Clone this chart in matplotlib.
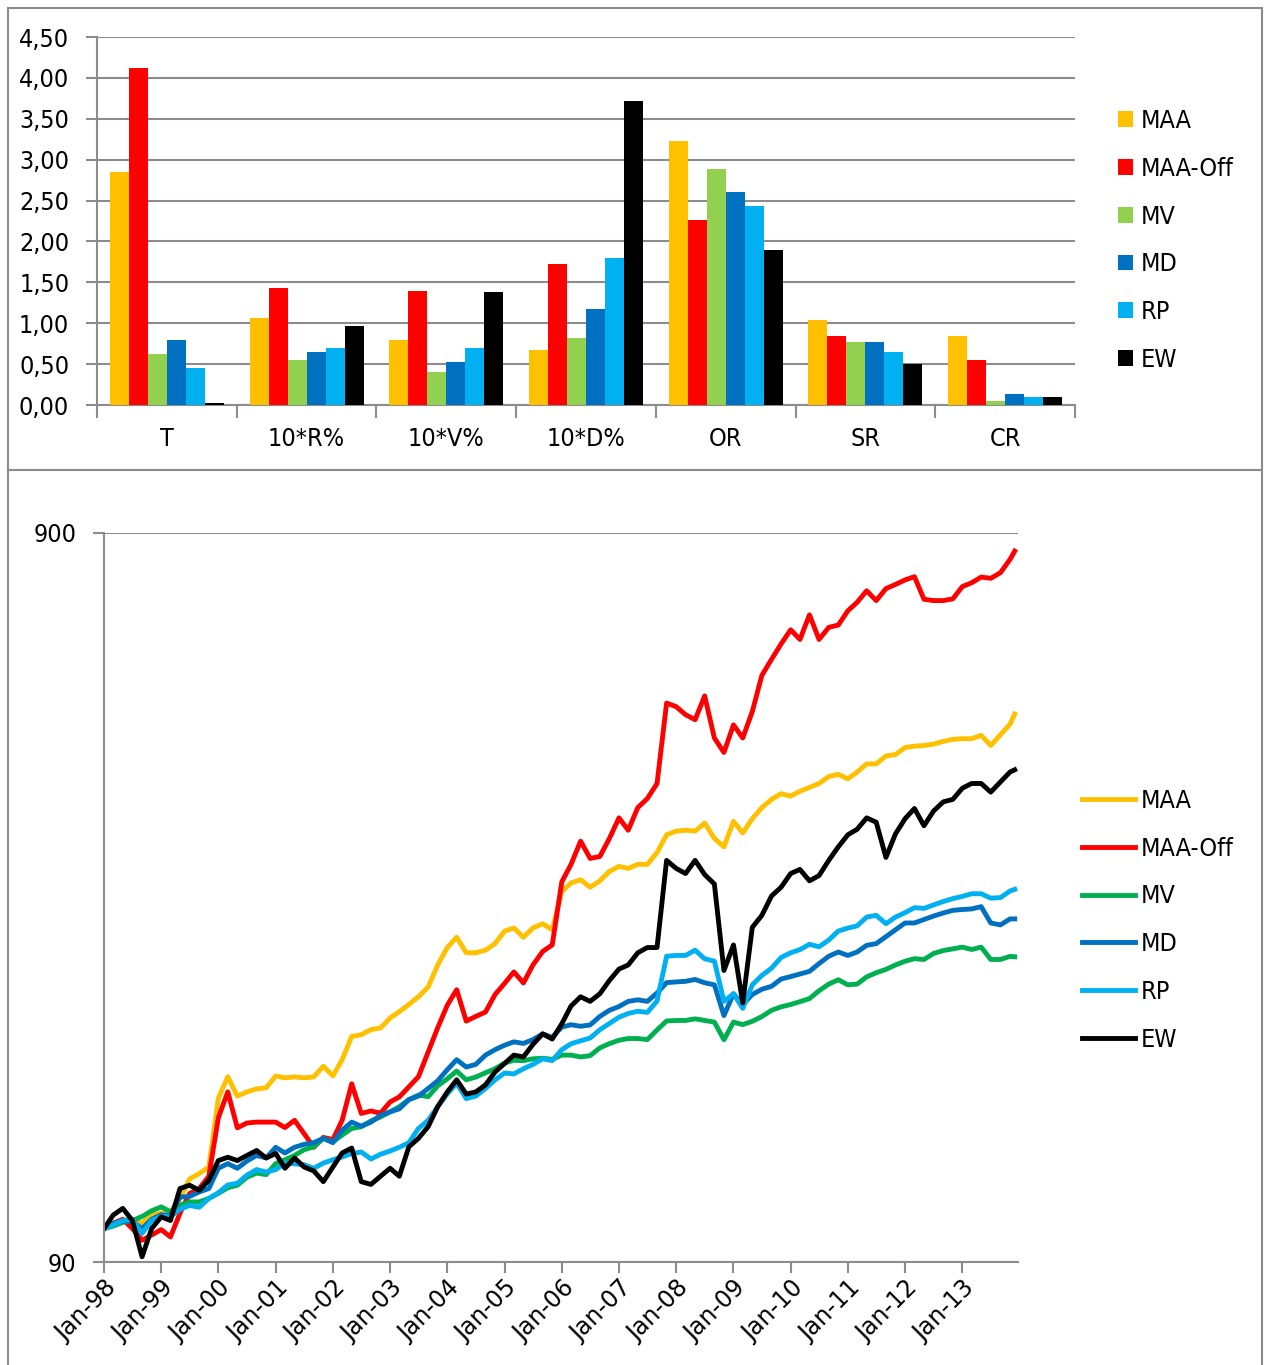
import datetime as dt

import numpy as np
from matplotlib import pyplot as plt
from matplotlib.lines import Line2D
from matplotlib.patches import Rectangle
from matplotlib.ticker import FixedLocator, FuncFormatter, NullLocator
import matplotlib.dates as mdates

NARROW = ['Liberation Sans Narrow', 'DejaVu Sans']

names = ['MAA', 'MAA-Off', 'MV', 'MD', 'RP', 'EW']
bar_colors = ['#FFC000', '#FF0000', '#92D050', '#0070C0', '#00B0F0', '#000000']
line_colors = ['#FFC000', '#FF0000', '#00B050', '#0070C0', '#00B0F0', '#000000']

# top chart: statistics per strategy
stats = ['T', '10*R%', '10*V%', '10*D%', 'OR', 'SR', 'CR']
maa_bar = [2.85, 1.06, 0.79, 0.67, 3.23, 1.04, 0.84]
off_bar = [4.12, 1.43, 1.40, 1.72, 2.26, 0.84, 0.55]
mv_bar = [0.62, 0.55, 0.40, 0.82, 2.89, 0.77, 0.05]
md_bar = [0.79, 0.65, 0.52, 1.18, 2.60, 0.77, 0.13]
rp_bar = [0.45, 0.70, 0.70, 1.80, 2.43, 0.65, 0.10]
ew_bar = [0.03, 0.97, 1.38, 3.72, 1.89, 0.50, 0.10]

# bottom chart: growth of 100 (log scale), every second month Jan-98 .. Nov-13, plus Dec-13
dates = [dt.date(y, m, 1) for y in range(1998, 2014) for m in (1, 3, 5, 7, 9, 11)]
dates.append(dt.date(2013, 12, 1))

maa = [100, 101.5, 102.6, 103, 101.7, 104.5,
       105, 105.5, 110, 117, 119, 121.5,
       151, 161.6, 152, 154, 155.5, 156,
       162, 161, 161.5, 161, 161.5, 167,
       162, 170.5, 183.5, 184.5, 187.5, 188.5,
       194.5, 198.5, 203, 208, 214.5, 230,
       243, 251, 239, 239, 241, 246,
       256, 258.5, 251, 258.5, 262, 257,
       290, 298, 301, 294, 300, 309,
       314, 312, 316, 316, 328, 347,
       351, 352, 351, 360, 343, 334,
       362, 349, 365, 378, 388, 395,
       392, 398, 403, 408, 417, 420,
       414, 423, 434, 434, 445, 447,
       457, 459, 460, 462, 466, 469,
       470, 470, 475, 460, 476, 492, 508]

maa_off = [100, 101.7, 103, 100, 96.4, 98,
           99.7, 97.4, 105, 111.7, 113.5, 118,
           142, 154, 137.5, 139.6, 140, 140,
           140, 137.6, 140.8, 135, 129.3, 133.4,
           132.5, 140.8, 158, 143.9, 145, 144,
           149.2, 151.6, 156.5, 161.6, 174.7, 188.6,
           202.5, 212.7, 192.6, 195.5, 198.2, 209.5,
           217, 225, 217.3, 230, 240, 245,
           299, 316, 340, 322, 324, 343,
           366, 352, 378, 389, 408, 526,
           520, 507, 499, 538, 471, 450,
           491, 471, 512, 574, 604, 634,
           663, 643, 695, 643, 668, 673,
           704, 723, 750, 727, 755, 765,
           776, 784, 730, 727, 727, 731,
           760, 769, 783, 780, 794, 828, 850]

mv = [100, 100.8, 102, 102.6, 103.9, 105.8,
      107.1, 105.5, 107.7, 108.8, 108.8, 110,
      111.8, 113.8, 114.7, 117.6, 119.2, 118.6,
      122.8, 124.3, 126, 128.3, 129.5, 133,
      131.5, 134.4, 137.2, 138, 140.5, 142.3,
      144.6, 147, 150.3, 152.5, 151.7, 157,
      160.5, 164.5, 160, 161.4, 163.6, 165.7,
      168.7, 170.2, 170, 171, 171.3, 170.7,
      173, 173, 172, 172.7, 177, 179.4,
      181.3, 182.3, 182.3, 181.7, 187.3, 192.7,
      193, 193, 194, 193, 192, 181.6,
      192, 190.5, 192.5, 195.4, 199.3, 201.5,
      203, 204.8, 206.8, 212, 216.5, 219.5,
      216, 216.5, 221.5, 224.4, 226.8, 230,
      232.7, 234.6, 234, 238.5, 240.7, 242,
      243.3, 241.5, 243.3, 234, 234, 236.3, 236]

md = [100, 101.7, 102.4, 102.3, 100, 103,
      104.5, 104.2, 110.5, 110.7, 112.3, 113.5,
      121, 122.8, 121, 123.8, 126, 125,
      129.3, 127, 129.3, 130.5, 131.2, 133,
      131.2, 136.5, 140, 138.2, 140, 143,
      144.6, 146, 150.3, 152, 155.7, 159.5,
      165.2, 170.5, 166.6, 168, 173, 176,
      178.5, 180.4, 179.5, 181.7, 185, 183,
      189, 190.4, 189.5, 190.3, 195.5, 199.3,
      201.7, 205, 206, 205, 210.5, 217.5,
      218, 218.4, 219.7, 217.4, 216, 196,
      210, 203, 209.5, 213, 215, 220,
      221.7, 223.5, 225.4, 231, 236.4, 239.6,
      237, 239.6, 244.7, 246, 251.5, 257,
      262.6, 262.6, 265.5, 268.4, 271, 273.3,
      274, 274.5, 276.5, 262.6, 261, 266, 266]

rp = [100, 101.2, 102.6, 103, 98.5, 102.6,
      104, 103.8, 106.3, 107.6, 107, 110,
      112, 114.8, 115.4, 118.4, 120.5, 119.6,
      120.5, 123, 122.7, 122.4, 121, 123,
      124.3, 125.4, 126.8, 127.4, 124.6, 126.5,
      127.8, 129.3, 131.2, 137.2, 140.8, 147,
      153, 158.3, 150.8, 152, 155.7, 160,
      163.5, 163, 165.7, 168, 171, 170,
      176, 179.3, 181, 182.6, 187.4, 191.2,
      195, 197.3, 198.7, 198, 205.2, 236.4,
      237, 237, 241, 234.5, 232.8, 205,
      210, 200.5, 216, 222.5, 227.7, 235.5,
      239, 241.4, 245.5, 243.6, 248.8, 256,
      258.4, 260.2, 267.5, 269, 262, 267.5,
      271.3, 275.6, 275, 278, 281, 283.6,
      285.6, 288, 288, 284, 284.5, 290.5, 292]

ew = [100, 104.4, 106.6, 102.6, 91.5, 100,
      103.8, 102.6, 113.5, 114.7, 112.9, 116.5,
      124, 125.3, 124, 126, 128, 125,
      126.8, 121, 125, 121.5, 120, 116,
      121.5, 127, 129, 116, 115, 118,
      121, 118, 129.5, 133, 138, 147,
      154, 160, 153, 154, 157.5, 164,
      168.5, 173, 172, 179, 185, 182,
      191, 202, 208, 205, 210, 219,
      227, 230, 239, 243, 243, 320,
      312, 307, 320, 306, 297, 226,
      245, 204, 259, 269, 286, 294,
      307, 311, 300, 305, 320, 334,
      347, 353, 366, 361, 323, 348,
      365, 377, 357, 374, 385, 388,
      402, 408, 408, 397, 410, 423, 426]

W, H = 1264, 1365
fig = plt.figure(figsize=(W / 100, H / 100), dpi=100)
grey = '#8c8c8c'

# panel frames
fig.add_artist(Rectangle((8 / W, 1 - 470 / H), 1254 / W, 462 / H, transform=fig.transFigure,
                         fill=False, ec=grey, lw=1.5))
fig.add_artist(Line2D([8 / W, 8 / W], [0, 1 - 470 / H], transform=fig.transFigure, color=grey, lw=1.5))
fig.add_artist(Line2D([1262 / W, 1262 / W], [0, 1 - 470 / H], transform=fig.transFigure, color=grey, lw=1.5))

# ---- bar chart
ax1 = fig.add_axes([97 / W, 1 - 405 / H, 978 / W, 368 / H])
x = np.arange(len(stats))
bw = 0.136
bar_data = [maa_bar, off_bar, mv_bar, md_bar, rp_bar, ew_bar]
for i, (vals, c, n) in enumerate(zip(bar_data, bar_colors, names)):
    ax1.bar(x + (i - 2.5) * bw, vals, bw, color=c, label=n, zorder=3)

ax1.set_xlim(-0.5, len(stats) - 0.5)
ax1.set_ylim(0, 4.5)
ax1.set_yticks(np.arange(0, 4.51, 0.5))
ax1.yaxis.set_major_formatter(FuncFormatter(lambda v, p: ('%.2f' % v).replace('.', ',')))
ax1.grid(axis='y', color=grey, lw=1.5, zorder=0)
ax1.set_xticks(x)
ax1.set_xticklabels(stats)
ax1.xaxis.set_minor_locator(FixedLocator(np.arange(-0.5, len(stats), 1.0)))
ax1.tick_params(axis='x', which='major', length=0, pad=16, labelsize=18)
ax1.tick_params(axis='x', which='minor', length=9, width=1.5, color=grey)
ax1.tick_params(axis='y', length=8, width=1.5, color=grey, pad=12, labelsize=18)
for s in ['top', 'right']:
    ax1.spines[s].set_visible(False)
for s in ['left', 'bottom']:
    ax1.spines[s].set_color(grey)
    ax1.spines[s].set_linewidth(1.5)
for lab in ax1.get_xticklabels() + ax1.get_yticklabels():
    lab.set_family(NARROW)
    lab.set_stretch('condensed')

ax1.legend(loc='upper left', bbox_to_anchor=(1118 / W, 1 - 109 / H), bbox_transform=fig.transFigure,
           frameon=False, prop={'family': NARROW, 'size': 18, 'stretch': 'condensed'},
           borderpad=0, borderaxespad=0,
           handlelength=0.6, handleheight=0.6, handletextpad=0.3, labelspacing=0.95)

# ---- line chart
ax2 = fig.add_axes([104 / W, 1 - 1262 / H, 914 / W, 729 / H])
series = [maa, maa_off, mv, md, rp, ew]
for vals, c, n in zip(series, line_colors, names):
    ax2.plot(dates, vals, color=c, lw=3.5, label=n, solid_joinstyle='round')

ax2.set_yscale('log')
ax2.set_ylim(90, 900)
ax2.yaxis.set_major_locator(FixedLocator([90, 900]))
ax2.yaxis.set_minor_locator(NullLocator())
ax2.yaxis.set_major_formatter(FuncFormatter(lambda v, p: '%d' % round(v)))
ax2.grid(axis='y', color=grey, lw=1.5)
ax2.set_xlim(dt.date(1998, 1, 1), dt.date(2013, 12, 22))
ax2.xaxis.set_major_locator(mdates.YearLocator(1, month=1, day=1))
ax2.xaxis.set_major_formatter(mdates.DateFormatter('%b-%y'))
ax2.tick_params(axis='x', length=8, width=1.5, color=grey, labelsize=17, pad=2)
ax2.tick_params(axis='y', length=8, width=1.5, color=grey, pad=12, labelsize=18)
for lab in ax2.get_xticklabels():
    lab.set_rotation(45)
    lab.set_ha('right')
    lab.set_va('top')
    lab.set_rotation_mode('anchor')
for lab in ax2.get_yticklabels():
    lab.set_family(NARROW)
    lab.set_stretch('condensed')
for s in ['top', 'right']:
    ax2.spines[s].set_visible(False)
for s in ['left', 'bottom']:
    ax2.spines[s].set_color(grey)
    ax2.spines[s].set_linewidth(1.5)

ax2.legend(loc='upper left', bbox_to_anchor=(1082 / W, 1 - 789 / H), bbox_transform=fig.transFigure,
           frameon=False, prop={'family': NARROW, 'size': 18, 'stretch': 'condensed'},
           borderpad=0, borderaxespad=0,
           handlelength=2.1, handletextpad=0.25, labelspacing=0.95)

fig.savefig('out.png', dpi=100)
